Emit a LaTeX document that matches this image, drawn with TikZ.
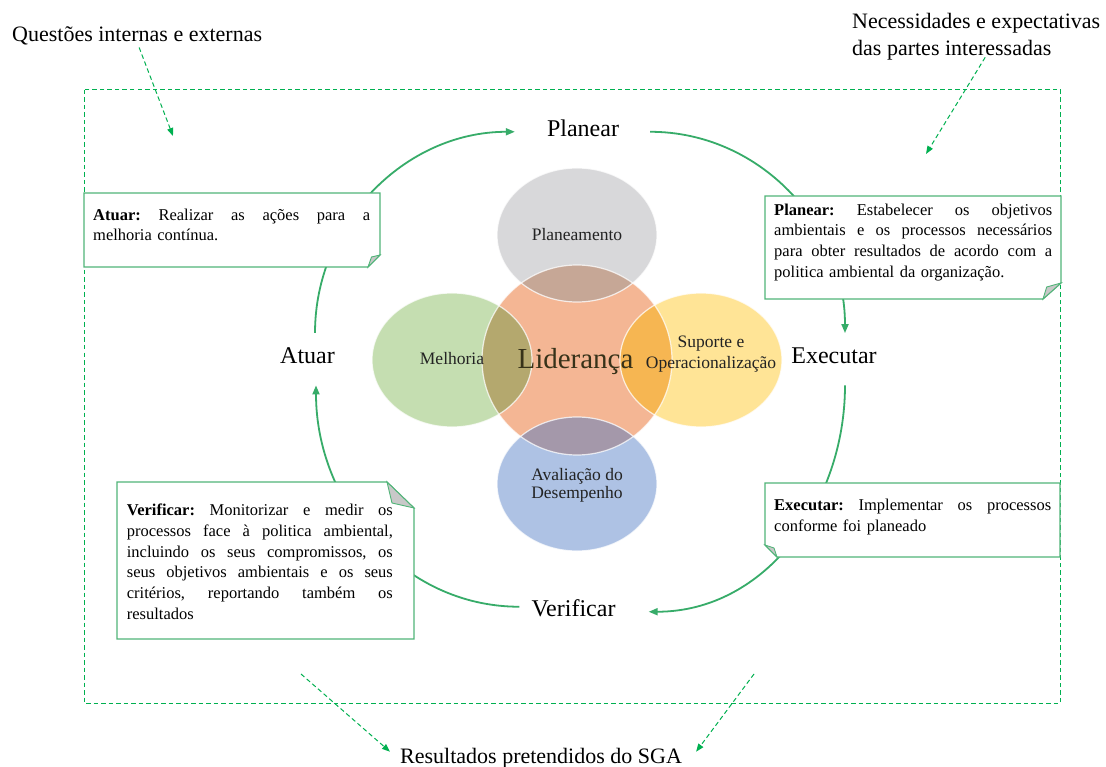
\documentclass[tikz,border=0pt]{standalone}
\usepackage{fontspec}
\setmainfont{Liberation Serif}
\usetikzlibrary{arrows.meta,calc}
\definecolor{arcgreen}{RGB}{55,172,105}
\definecolor{boxgreen}{RGB}{80,180,120}
\definecolor{dashgreen}{RGB}{0,176,80}
\definecolor{foldgray}{RGB}{200,200,200}
\definecolor{cgray}{RGB}{216,216,218}
\definecolor{corange}{RGB}{244,182,148}
\definecolor{cgreen}{RGB}{197,222,177}
\definecolor{cyellow}{RGB}{255,228,150}
\definecolor{cblue}{RGB}{174,194,228}
\definecolor{ogray}{RGB}{198,167,150}
\definecolor{ogreen}{RGB}{180,168,110}
\definecolor{oyellow}{RGB}{246,182,82}
\definecolor{oblue}{RGB}{164,152,170}
\definecolor{lidcol}{RGB}{55,50,25}
\definecolor{ctextcol}{RGB}{35,35,35}
\newcommand{\jl}[2]{\makebox[#1][s]{\frenchspacing\spaceskip=0pt\xspaceskip=0pt\strut #2}}
\begin{document}
\begin{tikzpicture}[x=1pt,y=-1pt,
  arc/.style={draw=arcgreen, line width=1.8pt, -{Triangle[length=9pt,width=7pt]}},
  boxline/.style={draw=boxgreen, fill=white, line width=1.2pt},
  fold/.style={draw=boxgreen, fill=foldgray, line width=0.9pt},
  boxnode/.style={inner sep=0pt, outer sep=0pt, anchor=north west},
  boxtext/.style={inner sep=0pt, anchor=north west, align=left, font=\fontsize{16.5}{20.7}\selectfont},
  cyc/.style={inner sep=0pt, anchor=base, font=\fontsize{24}{28}\selectfont},
  ctext/.style={inner sep=0pt, anchor=base, text=ctextcol, font=\fontsize{17.5}{20}\selectfont},
  outer/.style={inner sep=0pt, font=\fontsize{22}{27}\selectfont},
  dashline/.style={draw=dashgreen, line width=1pt, dash pattern=on 4.5pt off 3pt},
  dasharrow/.style={dashline, -{Triangle[length=8pt,width=6pt]}},
  ring/.style={draw=white, line width=1.2pt, opacity=0.75}
]
\useasboundingbox (0,0) rectangle (1106,767);
\fill[white] (0,0) rectangle (1106,767);

% outer dashed frame
\draw[dashline] (84,90) rectangle (1060,703);

% Venn-like circles
\fill[corange] (577,360) circle [radius=95pt];
\fill[cgray] (577,235) ellipse [x radius=80pt, y radius=67pt];
\fill[cgreen] (452,360) ellipse [x radius=80pt, y radius=67pt];
\fill[cyellow] (701,360) ellipse [x radius=81pt, y radius=67pt];
\fill[cblue] (577,484) ellipse [x radius=80pt, y radius=67pt];
\begin{scope}
  \clip (577,360) circle [radius=95pt];
  \fill[ogray] (577,235) ellipse [x radius=80pt, y radius=67pt];
  \fill[ogreen] (452,360) ellipse [x radius=80pt, y radius=67pt];
  \fill[oyellow] (701,360) ellipse [x radius=81pt, y radius=67pt];
  \fill[oblue] (577,484) ellipse [x radius=80pt, y radius=67pt];
\end{scope}
\draw[ring] (577,360) circle [radius=95pt];
\draw[ring] (577,235) ellipse [x radius=80pt, y radius=67pt];
\draw[ring] (452,360) ellipse [x radius=80pt, y radius=67pt];
\draw[ring] (701,360) ellipse [x radius=81pt, y radius=67pt];
\draw[ring] (577,484) ellipse [x radius=80pt, y radius=67pt];

\node[ctext] (planeamento) at (577,241) {Planeamento};
\node[ctext] (melhoria) at (452,365) {Melhoria};
\node[ctext] (suporte1) at (711,348) {Suporte e};
\node[ctext] (suporte2) at (711,368) {Operacionalização};
\node[ctext] (avaliacao1) at (577,480.5) {Avaliação do};
\node[ctext] (avaliacao2) at (577,498.5) {Desempenho};
\node[inner sep=0pt, anchor=base, text=lidcol, font=\fontsize{29}{32}\selectfont] (lideranca) at (575.5,368) {Liderança};

% cycle labels
\node[cyc] (planear) at (583,137) {Planear};
\node[cyc] (executar) at (834,363) {Executar};
\node[cyc] (verificar) at (573.5,616) {Verificar};
\node[cyc] (atuar) at (307.5,363) {Atuar};

% cycle arcs
\draw[arc] ([xshift=7.5pt,yshift=14pt]atuar.north) .. controls +(0,-110) and +(-110,0) .. ([xshift=-32pt,yshift=-3pt]planear.west);
\draw[arc] ([xshift=31pt,yshift=-3pt]planear.east) .. controls +(109,0) and +(0,-109) .. ([xshift=11pt,yshift=14pt]executar.north);
\draw[arc] ([xshift=11pt,yshift=-22pt]executar.south) .. controls +(0,117) and +(117,0) .. ([xshift=33pt,yshift=-4pt]verificar.east);
\draw[arc] ([xshift=-12pt,yshift=1pt]verificar.west) .. controls +(-117,0) and +(0,117) .. ([xshift=8.5pt,yshift=-22pt]atuar.south);

% Atuar box
\node[boxnode, minimum width=296pt, minimum height=74pt] (atuarbox) at (84,193) {};
\filldraw[boxline] (atuarbox.north west) -- (atuarbox.north east) -- ([yshift=12pt]atuarbox.south east) -- ([xshift=-12pt]atuarbox.south east) -- (atuarbox.south west) -- cycle;
\filldraw[fold] ([yshift=12pt]atuarbox.south east) -- ([xshift=-12pt]atuarbox.south east) -- ([xshift=-8.5pt,yshift=10pt]atuarbox.south east) -- cycle;
\node[boxtext, text width=277pt] (atuartext) at ([xshift=9pt,yshift=-12.5pt]atuarbox.north west)
  {\jl{277pt}{\textbf{Atuar:} Realizar as ações para a}\\melhoria contínua.};

% Planear box
\node[boxnode, minimum width=296pt, minimum height=103pt] (planearbox) at (765,196) {};
\filldraw[boxline] (planearbox.north west) -- (planearbox.north east) -- ([yshift=16pt]planearbox.south east) -- ([xshift=-18pt]planearbox.south east) -- (planearbox.south west) -- cycle;
\filldraw[fold] ([yshift=16pt]planearbox.south east) -- ([xshift=-18pt]planearbox.south east) -- ([xshift=-14.3pt,yshift=12pt]planearbox.south east) -- cycle;
\node[boxtext, text width=278pt] (planeartext) at ([xshift=9pt,yshift=-4.5pt]planearbox.north west)
  {\jl{278pt}{\textbf{Planear:} Estabelecer os objetivos}\\
   \jl{278pt}{ambientais e os processos necessários}\\
   \jl{278pt}{para obter resultados de acordo com a}\\
   politica ambiental da organização.};

% Executar box
\node[boxnode, minimum width=295pt, minimum height=74pt] (executarbox) at (765,483) {};
\filldraw[boxline] (executarbox.north west) -- (executarbox.north east) -- (executarbox.south east) -- ([xshift=12pt]executarbox.south west) -- ([yshift=12pt]executarbox.south west) -- cycle;
\filldraw[fold] ([yshift=12pt]executarbox.south west) -- ([xshift=12pt]executarbox.south west) -- ([xshift=9pt,yshift=9pt]executarbox.south west) -- cycle;
\node[boxtext, text width=277pt] (executartext) at ([xshift=9pt,yshift=-13pt]executarbox.north west)
  {\jl{277pt}{\textbf{Executar:} Implementar os processos}\\conforme foi planeado};

% Verificar box
\node[boxnode, minimum width=297pt, minimum height=157pt] (verificarbox) at (117,482) {};
\filldraw[boxline] (verificarbox.north west) -- ([xshift=-27pt]verificarbox.north east) -- ([yshift=-26pt]verificarbox.north east) -- (verificarbox.south east) -- (verificarbox.south west) -- cycle;
\filldraw[fold] ([xshift=-27pt]verificarbox.north east) -- ([yshift=-26pt]verificarbox.north east) -- ([xshift=-22pt,yshift=-21pt]verificarbox.north east) -- cycle;
\node[boxtext, text width=266pt] (verificartext) at ([xshift=9.7pt,yshift=-19pt]verificarbox.north west)
  {\jl{266pt}{\textbf{Verificar:} Monitorizar e medir os}\\
   \jl{266pt}{processos face à politica ambiental,}\\
   \jl{266pt}{incluindo os seus compromissos, os}\\
   \jl{266pt}{seus objetivos ambientais e os seus}\\
   \jl{266pt}{critérios, reportando também os}\\
   resultados};

% outside labels
\node[outer, anchor=base west] (questoes) at (12,41.7) {Questões internas e externas};
\node[outer, anchor=north west, align=left] (necess) at (852,13) {Necessidades e expectativas\\das partes interessadas};
\node[outer, anchor=base west] (resultados) at (400,763) {Resultados pretendidos do SGA};

\coordinate (qend) at (173,136);
\coordinate (nend) at (926,154);
\coordinate (rstart1) at (301,674);
\coordinate (rstart2) at (754,674);
\draw[dasharrow] ([xshift=2pt,yshift=-2pt]questoes.south) -- (qend);
\draw[dasharrow] ([xshift=9pt,yshift=3pt]necess.south) -- (nend);
\draw[dasharrow] (rstart1) -- ([xshift=-10pt,yshift=6pt]resultados.west);
\draw[dasharrow] (rstart2) -- ([xshift=14pt,yshift=6pt]resultados.east);
\end{tikzpicture}
\end{document}
